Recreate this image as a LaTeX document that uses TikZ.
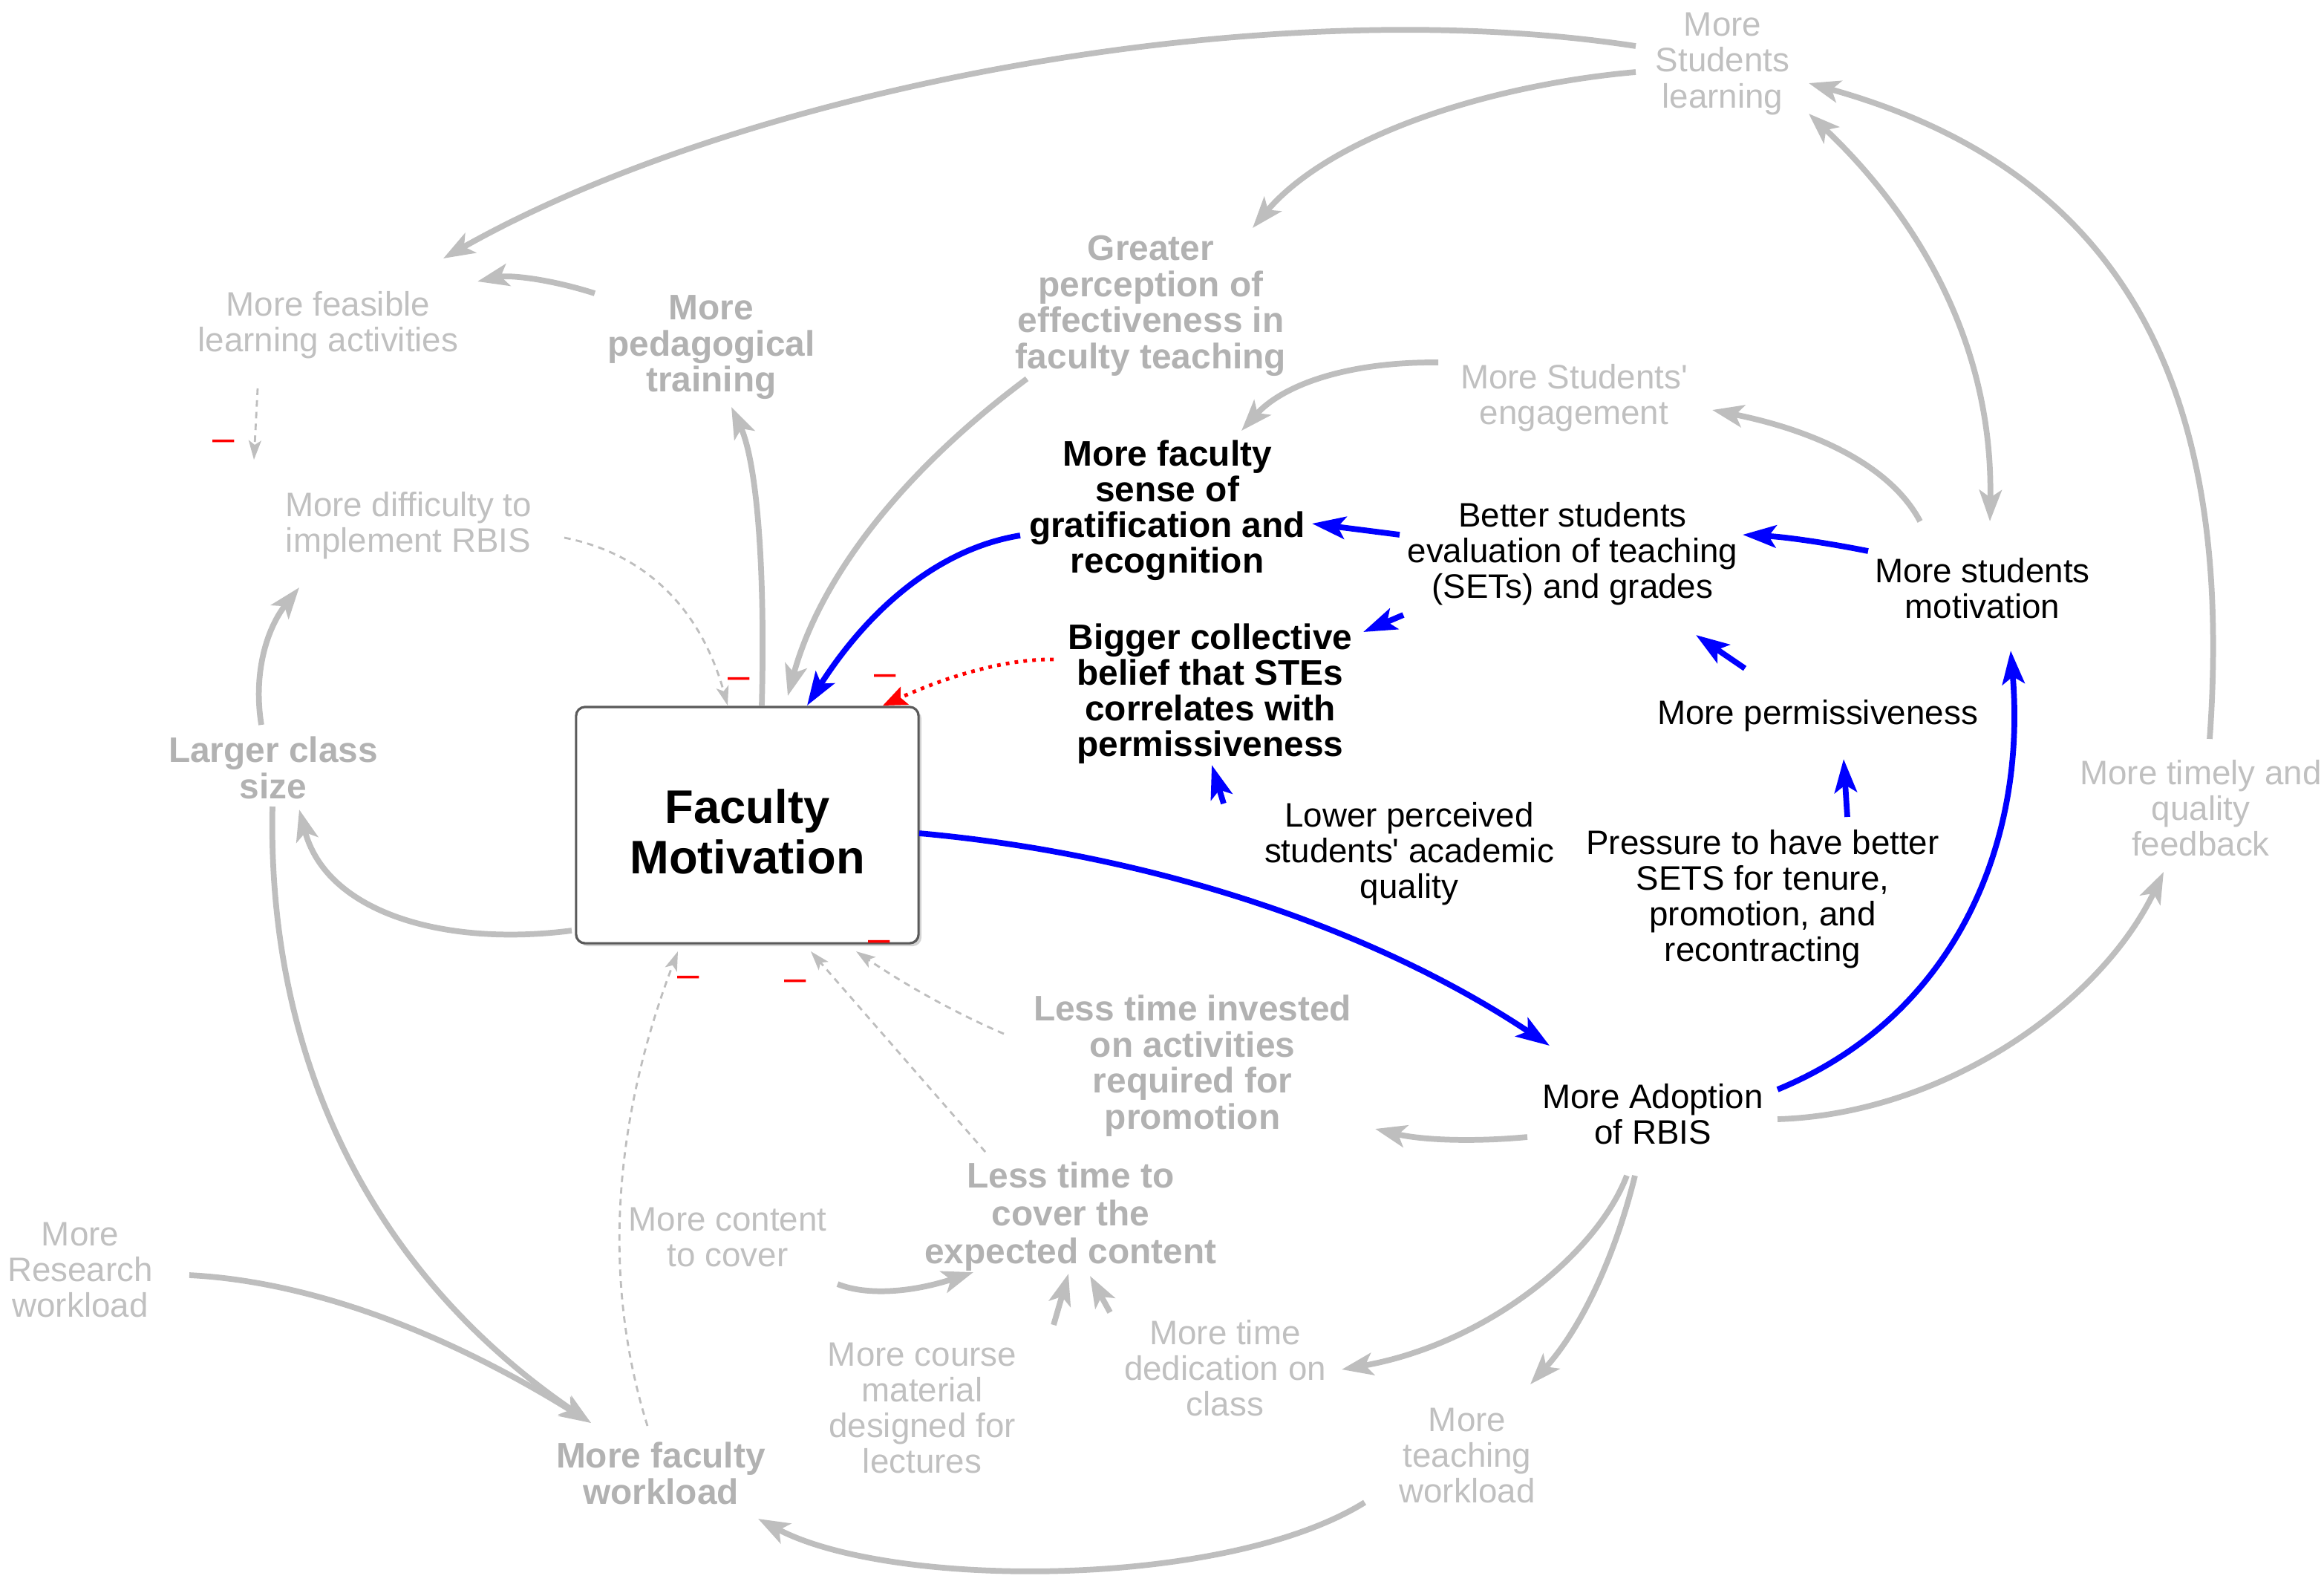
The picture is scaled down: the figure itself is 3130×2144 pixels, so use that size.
\documentclass[tikz,border=0pt]{standalone}
\usepackage{fontspec}
\setmainfont{Liberation Sans}
\usetikzlibrary{arrows.meta,calc,shadows}
\definecolor{arrgray}{RGB}{190,190,190}
\definecolor{txtgray}{RGB}{192,192,192}
\definecolor{boldgray}{RGB}{178,178,178}
\definecolor{boxgray}{RGB}{90,90,90}
\begin{document}
\begin{tikzpicture}[x=0.01cm,y=-0.01cm,
  gtip/.tip={Stealth[length=0.42cm,width=0.3cm,inset=0.1cm]},
  btip/.tip={Stealth[length=0.45cm,width=0.3cm,inset=0.1cm]},
  dtip/.tip={Stealth[length=0.26cm,width=0.17cm,inset=0.06cm]},
  rtip/.tip={Stealth[length=0.32cm,width=0.26cm,inset=0.06cm]},
  gtxt/.style={text=txtgray,font=\fontsize{13}{13.66}\selectfont,align=center,inner sep=0pt},
  gbold/.style={text=boldgray,font=\fontsize{13.6}{13.8}\selectfont\bfseries,align=center,inner sep=0pt},
  btxt/.style={text=black,font=\fontsize{13}{13.66}\selectfont,align=center,inner sep=0pt},
  bbold/.style={text=black,font=\fontsize{13.6}{13.66}\selectfont\bfseries,align=center,inner sep=0pt},
  fmbox/.style={draw=boxgray,line width=0.9pt,rounded corners=0.12cm,fill=white,
     minimum width=4.61cm,minimum height=3.18cm,inner sep=0pt,align=center,
     font=\fontsize{18}{19.35}\selectfont\bfseries,
     drop shadow={shadow xshift=0.04cm,shadow yshift=-0.04cm,opacity=0.35,fill=gray}},
  garr/.style={draw=arrgray,line width=2.2pt,-gtip},
  barr/.style={draw=blue,line width=2.2pt,-btip},
  darr/.style={draw=arrgray,line width=0.8pt,dash pattern=on 2.5pt off 2pt,-dtip},
  rarr/.style={draw=red,line width=1.4pt,dash pattern=on 1.4pt off 2pt,-rtip},
  neg/.style={text=red,font=\fontsize{15}{15}\selectfont,inner sep=0pt}]
\useasboundingbox (0,0) rectangle (3130,2144);

% nodes
\node[gtxt] (SL) at (2320,86) {More\\Students\\learning};
\node[gtxt] (FLA) at (442,438) {More feasible\\learning activities};
\node[gbold] (PT) at (958,468) {More\\pedagogical\\training};
\node[gbold] (GP) at (1550,412) {Greater\\perception of\\effectiveness in\\faculty teaching};
\node[gtxt] (SE) at (2120,536) {More Students\textquotesingle\\engagement};
\node[bbold] (FS) at (1572,687) {More faculty\\sense of\\gratification and\\recognition};
\node[btxt] (BS) at (2118,746) {Better students\\evaluation of teaching\\(SETs) and grades};
\node[btxt] (SM) at (2670,792) {More students\\motivation};
\node[gtxt] (DI) at (550,708) {More difficulty to\\implement RBIS};
\node[bbold] (BC) at (1630,934) {Bigger collective\\belief that STEs\\correlates with\\permissiveness};
\node[btxt] (MP) at (2448,964) {More permissiveness};
\node[gbold] (LC) at (368,1034) {Larger class\\size};
\node[fmbox] (FM) at (1006.5,1111) {\rule{0pt}{18.2pt}Faculty\\Motivation};
\node[btxt] (LP) at (1898,1150) {Lower perceived\\students\textquotesingle\ academic\\quality};
\node[btxt] (PR) at (2374,1211) {Pressure to have better\\SETS for tenure,\\promotion, and\\recontracting};
\node[gtxt] (TF) at (2964,1088) {More timely and\\quality\\feedback};
\node[gbold] (LI) at (1606,1435) {Less time invested\\on activities\\required for\\promotion};
\node[btxt] (AD) at (2226,1500) {More Adoption\\of RBIS};
\node[gbold,font=\fontsize{13.6}{14.5}\selectfont\bfseries] (LT) at (1442,1638) {Less time to\\cover the\\expected content};
\node[gtxt] (MC) at (980,1666) {More content\\to cover};
\node[gtxt] (RW) at (108,1710) {More\\Research\\workload};
\node[gtxt] (CM) at (1242,1896) {More course\\material\\designed for\\lectures};
\node[gtxt] (TD) at (1650,1842) {More time\\dedication on\\class};
\node[gtxt] (TW) at (1976,1960) {More\\teaching\\workload};
\node[gbold] (FW) at (890,1984) {More faculty\\workload};

% connectors
\draw[garr] ($(SL)+(-117,-24)$) .. controls (1700,-15) and (1000,120) .. ($(FLA)+(155,-90)$);
\draw[garr] ($(SL)+(-117,11)$) .. controls (2000,115) and (1790,185) .. ($(GP)+(137,-105)$);
\draw[garr] ($(PT)+(-157,-73)$) .. controls (738,375) and (685,370) .. ($(FLA)+(201,-59)$);
\draw[darr] ($(FLA)+(-95,85)$) -- ($(DI)+(-208,-89)$);
\draw[darr] ($(DI)+(210,16)$) .. controls (871,746) and (944,821) .. ($(FM)+(-26.5,-161)$);
\draw[garr] ($(FM)+(19.5,-161)$) .. controls (1031,753) and (1018,619) .. ($(PT)+(27,80)$);
\draw[garr] ($(GP)+(-167,98)$) .. controls (1210,639) and (1103,782) .. ($(FM)+(54.5,-174)$);
\draw[barr] ($(FS)+(-198,34)$) .. controls (1269,738) and (1174,814) .. ($(FM)+(80.5,-161)$);
\draw[rarr] ($(BC)+(-211,-46)$) .. controls (1358,887) and (1282,908) .. ($(FM)+(182.5,-161)$);
\draw[garr] ($(SE)+(-183,-48)$) .. controls (1817,487) and (1729,517) .. ($(FS)+(100,-107)$);
\draw[barr] ($(BS)+(-233,-26)$) -- ($(FS)+(195,18)$);
\draw[barr] ($(BS)+(-228,82)$) -- ($(BC)+(206,-83)$);
\draw[barr] ($(SM)+(-154,-50)$) .. controls (2461,731) and (2405,723) .. ($(BS)+(229,-26)$);
\draw[garr] ($(SM)+(-84,-90)$) .. controls (2549,632) and (2455,582) .. ($(SE)+(186,16)$);
\draw[garr,gtip-gtip] ($(SL)+(116,67)$) .. controls (2560,270) and (2685,440) .. ($(SM)+(10,-90)$);
\draw[garr] ($(TF)+(12,-93)$) .. controls (3010,520) and (2860,230) .. ($(SL)+(116,26)$);
\draw[garr] ($(AD)+(168,7)$) .. controls (2620,1500) and (2830,1350) .. ($(TF)+(-50,86)$);
\draw[barr] ($(AD)+(168,-33)$) .. controls (2630,1370) and (2730,1140) .. ($(SM)+(38,84)$);
\draw[barr] ($(FM)+(231.5,11)$) .. controls (1550,1150) and (1850,1250) .. ($(AD)+(-139,-92)$);
\draw[barr] ($(LP)+(-250,-68)$) -- ($(BC)+(2,96)$);
\draw[barr] ($(PR)+(114,-111)$) -- ($(MP)+(35,58)$);
\draw[barr] ($(MP)+(-98,-64)$) -- ($(BS)+(166,109)$);
\draw[garr] ($(AD)+(-169,31)$) .. controls (1982,1538) and (1914,1535) .. ($(LI)+(246,85)$);
\draw[darr] ($(LI)+(-254,-43)$) .. controls (1289,1365) and (1222,1328) .. ($(FM)+(146.5,170)$);
\draw[darr] ($(LT)+(-115,-87)$) -- ($(FM)+(85.5,170)$);
\draw[darr] ($(FW)+(-18,-64)$) .. controls (811,1725) and (825,1512) .. ($(FM)+(-93.5,170)$);
\draw[garr] ($(FM)+(-236.5,142)$) .. controls (600,1275) and (440,1230) .. ($(LC)+(35,56)$);
\draw[garr] ($(LC)+(-16,-58)$) .. controls (341,909) and (358,848) .. ($(DI)+(-147,83)$);
\draw[garr] ($(LC)+(-1,52)$) .. controls (360,1400) and (480,1700) .. ($(FW)+(-94,-68)$);
\draw[garr] ($(RW)+(147,7)$) .. controls (414,1725) and (595,1791) .. ($(FW)+(-94,-68)$);
\draw[garr] ($(MC)+(148,63)$) .. controls (1168,1745) and (1229,1740) .. ($(LT)+(-131,75)$);
\draw[garr] ($(CM)+(177,-112)$) -- ($(LT)+(-3,77)$);
\draw[garr] ($(TD)+(-155,-75)$) -- ($(LT)+(26,80)$);
\draw[garr] ($(AD)+(-35,83)$) .. controls (2150,1690) and (2000,1810) .. ($(TD)+(157,2)$);
\draw[garr] ($(AD)+(-24,83)$) .. controls (2173,1700) and (2126,1793) .. ($(TW)+(85,-96)$);
\draw[garr] ($(TW)+(-138,63)$) .. controls (1650,2140) and (1200,2140) .. ($(FW)+(131,61)$);

% polarity marks
\node[neg] (n1) at (301,600) {–};
\node[neg] (n2) at (995,920) {–};
\node[neg] (n3) at (1192,916) {–};
\node[neg] (n4) at (927,1322) {–};
\node[neg] (n5) at (1071,1327) {–};
\node[neg] (n6) at (1184,1274) {–};
\end{tikzpicture}
\end{document}
